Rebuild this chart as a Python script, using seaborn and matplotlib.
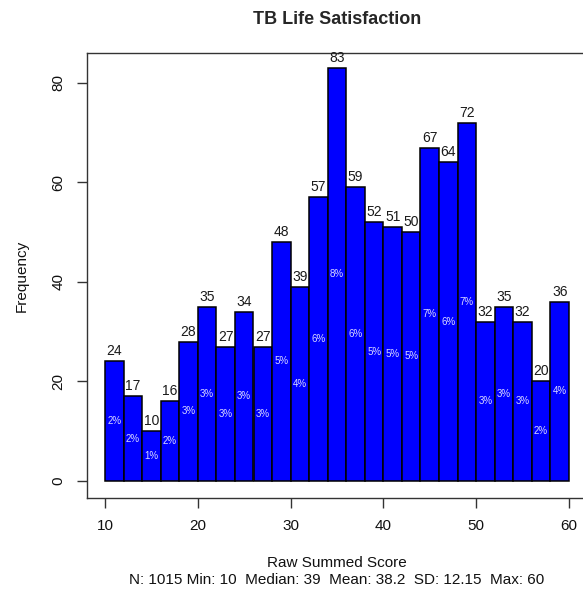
import numpy as np
import pandas as pd
import matplotlib
matplotlib.use('Agg')
import matplotlib.pyplot as plt
import seaborn as sns

# histogram counts (bins of width 2 from 10 to 60)
bin_edges = list(range(10, 62, 2))
counts = [24, 17, 10, 16, 28, 35, 27, 34, 27, 48, 39, 57, 83,
          59, 52, 51, 50, 67, 64, 72, 32, 35, 32, 20, 36]
x_ticks = [10, 20, 30, 40, 50, 60]
y_ticks = [0, 20, 40, 60, 80]
title = 'TB Life Satisfaction'
x_label = 'Raw Summed Score'
y_label = 'Frequency'
stats_line = 'N: 1015 Min: 10  Median: 39  Mean: 38.2  SD: 12.15  Max: 60'

sns.set_theme(style='white')
plt.rcParams['font.family'] = ['Liberation Sans', 'DejaVu Sans']
plt.rcParams['axes.edgecolor'] = '#333333'
plt.rcParams['axes.linewidth'] = 1.0

df = pd.DataFrame({'score': np.array(bin_edges[:-1]) + 1, 'n': counts})
total = df['n'].sum()

fig = plt.figure(figsize=(5.83, 5.92), dpi=100)
W, H = 583, 592
ax = fig.add_axes([86.5 / W, 94 / H, 501 / W, 445 / H])

sns.histplot(data=df, x='score', weights='n', bins=bin_edges, ax=ax,
             color='#0000ff', edgecolor='black', linewidth=1.1, alpha=1.0)

# counts above the bars, percentages at half height
for c, n in zip(df['score'], df['n']):
    ax.text(c, n + 0.6, str(n), ha='center', va='bottom',
            fontsize=10, color='#1a1a1a')
    ax.text(c, n / 2, f'{round(n / total * 100)}%', ha='center', va='center',
            fontsize=7, color='#d8d8ff')

ax.set_xlim(8, 62)
ax.set_ylim(-3.44, 86.0)
ax.set_xticks(x_ticks)
ax.set_yticks(y_ticks)
ax.tick_params(axis='both', direction='out', length=7, width=1.0,
               color='#333333', labelsize=11, labelcolor='#111111',
               bottom=True, left=True, pad=8)
ax.tick_params(axis='y', labelrotation=90)
for lab in ax.get_yticklabels():
    lab.set_va('center')

ax.set_title(title, fontsize=13, fontweight='bold', pad=21)
ax.set_xlabel(x_label, fontsize=11, color='#111111')
ax.xaxis.set_label_coords(0.5, (498 - 563) / 445)
ax.xaxis.label.set_va('center')
ax.set_ylabel(y_label, fontsize=11, color='#111111')
ax.yaxis.set_label_coords((22 - 86.5) / 501, 0.5)
ax.yaxis.label.set_va('center')

fig.text(337 / W, 1 - 580 / H, stats_line, ha='center', va='center',
         fontsize=11, color='#111111')

for s in ax.spines.values():
    s.set_visible(True)

fig.savefig('out.png', dpi=100)
